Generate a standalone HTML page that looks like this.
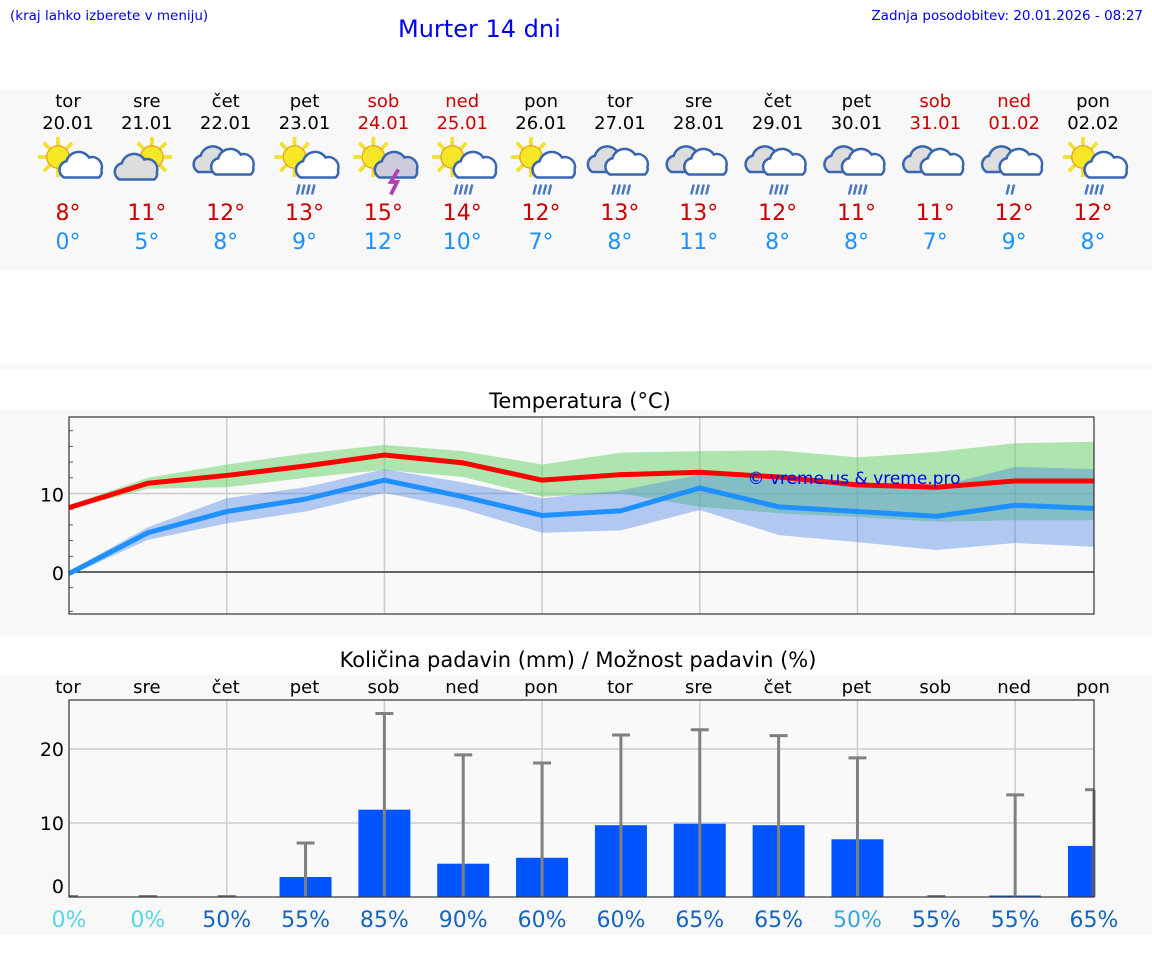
<!DOCTYPE html>
<html><head><meta charset="utf-8">
<style>
body{margin:0;width:1152px;height:975px;background:#fff;font-family:"DejaVu Sans","Liberation Sans",sans-serif;position:relative;overflow:hidden}
.abs{position:absolute}
</style></head><body>
<div class="abs" style="left:10px;top:8px;font-size:13.5px;color:#0000ee">(kraj lahko izberete v meniju)</div>
<div class="abs" style="left:398px;top:15px;font-size:24px;color:#0000ee">Murter 14 dni</div>
<div class="abs" style="right:9px;top:8px;font-size:13.5px;color:#0000ee">Zadnja posodobitev: 20.01.2026 - 08:27</div>
<div class="abs" style="left:0;top:90px;width:1152px;height:180px;background:#f8f8f8"></div>
<div class="abs" style="left:0;top:365px;width:1152px;height:5px;background:#f8f8f8"></div>
<div class="abs" style="left:0;top:410px;width:1152px;height:225px;background:#f8f8f8"></div>
<div class="abs" style="left:0;top:675px;width:1152px;height:260px;background:#f8f8f8"></div>
<svg class="abs" style="left:0;top:0" width="1152" height="975" id="svg" font-family="DejaVu Sans, Liberation Sans, sans-serif"></svg>
<script>
const days=["tor","sre","čet","pet","sob","ned","pon","tor","sre","čet","pet","sob","ned","pon"];
const dates=["20.01","21.01","22.01","23.01","24.01","25.01","26.01","27.01","28.01","29.01","30.01","31.01","01.02","02.02"];
const weekend=[0,0,0,0,1,1,0,0,0,0,0,1,1,0];
const icons=["sunc","suncl","cloud","sunrain","sunstorm","sunrain","sunrain","rain","rain","rain","rain","cloud","rain1","sunrain"];
const hiLabels=[8,11,12,13,15,14,12,13,13,12,11,11,12,12];
const loLabels=[0,5,8,9,12,10,7,8,11,8,8,7,9,8];
const tMax=[8.2,11.3,12.3,13.5,14.9,13.9,11.7,12.4,12.7,12.1,11.1,10.8,11.6,11.6];
const tMin=[-0.2,5.0,7.7,9.3,11.7,9.6,7.2,7.8,10.7,8.3,7.7,7.1,8.5,8.1];
const maxHi=[8.5,12.0,13.7,15.1,16.2,15.4,13.7,15.2,15.4,15.5,14.6,15.3,16.4,16.6];
const maxLo=[8.0,10.6,10.8,12.0,13.0,12.1,9.6,10.0,8.3,7.5,7.0,6.4,6.6,6.6];
const minHi=[0.1,5.7,9.4,10.8,13.1,11.4,9.4,10.4,12.4,11.7,11.1,10.8,13.4,13.1];
const minLo=[-0.5,4.1,6.2,7.7,10.1,8.0,5.0,5.3,7.9,4.7,3.8,2.8,3.7,3.2];
const tTicks=[0,10];
const precip=[0,0,0,2.7,11.8,4.5,5.3,9.7,9.9,9.7,7.8,0,0.2,6.9];
const precipMax=[0,0,0,7.3,24.8,19.2,18.1,21.9,22.6,21.8,18.8,0,13.8,14.5];
const prob=[0,0,50,55,85,90,60,60,65,65,50,55,55,65];
const pTicks=[0,10,20];

const NS="http://www.w3.org/2000/svg",svg=document.getElementById('svg');
function el(t,a,p){const e=document.createElementNS(NS,t);for(const k in a)e.setAttribute(k,a[k]);(p||svg).appendChild(e);return e;}
const X0=69,X1=1094,dx=(X1-X0)/13;
const dayX=i=>X0+i*dx;
for(let i=0;i<14;i++){
  const x=dayX(i)-1, col=weekend[i]?"#cc0000":"#000";
  let t=el('text',{x:x,y:107,'text-anchor':'middle','font-size':18,fill:col});t.textContent=days[i];
  
  t=el('text',{x:x,y:129,'text-anchor':'middle','font-size':18,fill:col});t.textContent=dates[i];
  
  t=el('text',{x:x,y:220,'text-anchor':'middle','font-size':22,fill:"#cc0000"});t.textContent=hiLabels[i]+"°";
  
  t=el('text',{x:x,y:249,'text-anchor':'middle','font-size':22,fill:"#1e90ff"});t.textContent=loLabels[i]+"°";
  
  const g=el('g',{transform:`translate(${x},162) scale(1.25)`});
  
  const k=icons[i];
  const sun=(cx,cy)=>{for(let a=0;a<8;a++){const r=a*Math.PI/4;el('line',{x1:cx+Math.cos(r)*9,y1:cy+Math.sin(r)*9,x2:cx+Math.cos(r)*16,y2:cy+Math.sin(r)*16,stroke:"#f2e030",'stroke-width':3},g);}el('circle',{cx:cx,cy:cy,r:9,fill:"#f5e626",stroke:"#e8a020",'stroke-width':1},g);};
  const cloud=(cx,cy,s,f)=>{el('path',{d:`M${cx-14*s},${cy+8*s} a7 7 0 0 1 2,-13 a10 10 0 0 1 18,-3 a8 8 0 0 1 10,10 a6 6 0 0 1 -2,6 z`,fill:f,stroke:"#3a66b0",'stroke-width':2},g);};
  if(k.startsWith('sun')&&k!=='suncl'){sun(-8,-4);cloud(8,6,0.8,k==='sunstorm'?"#ccd":"#fff");}
  if(k==='suncl'){sun(4,-4);cloud(-8,6,1,"#ddd");}
  if(k==='cloud'||k==='rain'||k==='rain1'){cloud(-8,0,1,"#ddd");cloud(6,2,1,"#fff");}
  if(k.includes('rain')){const n=k==='rain1'?2:4;for(let j=0;j<n;j++)el('line',{x1:-4+j*4,y1:18,x2:-6+j*4,y2:26,stroke:"#4a78c0",'stroke-width':2},g);}
  if(k==='sunstorm')el('path',{d:"M12,6 L6,16 L11,16 L6,26",stroke:"#b040b0",'stroke-width':3,fill:'none'},g);
}
const TY=v=>572-v*7.85;
let t=el('text',{x:580,y:408,'text-anchor':'middle','font-size':21,fill:"#000"});t.textContent="Temperatura (°C)";

el('rect',{x:X0,y:417,width:X1-X0,height:197,fill:"#f9f9f9"});
for(let i=2;i<13;i+=2)el('line',{x1:dayX(i),y1:417,x2:dayX(i),y2:614,stroke:"#ccc",'stroke-width':1.5});
for(const v of [-5,-2,2,4,6,8,12,14,16,18])el('line',{x1:X0,y1:TY(v),x2:X0+4,y2:TY(v),stroke:"#555"});
tTicks.forEach(v=>{el('line',{x1:X0,y1:TY(v),x2:X1,y2:TY(v),stroke:v===0?"#333":"#ccc",'stroke-width':1.5});
 const tt=el('text',{x:64,y:TY(v)+8,'text-anchor':'end','font-size':19});tt.textContent=v;
 });
function band(hi,lo,fill,name){let d="";hi.forEach((v,i)=>d+=(i?"L":"M")+dayX(i)+","+TY(v));for(let i=lo.length-1;i>=0;i--)d+="L"+dayX(i)+","+TY(lo[i]);
 const p=el('path',{d:d+"Z",fill:fill});}
function line(a,c,name){const p=el('polyline',{points:a.map((v,i)=>dayX(i)+","+TY(v)).join(" "),fill:"none",stroke:c,'stroke-width':5,'stroke-linejoin':'round'});
 }
band(maxHi,maxLo,"rgba(100,210,100,0.5)","max-temp-range");
band(minHi,minLo,"rgba(70,130,230,0.4)","min-temp-range");
line(tMax,"#ff0000","max-temp-line");line(tMin,"#1e90ff","min-temp-line");
el('rect',{x:X0,y:417,width:X1-X0,height:197,fill:"none",stroke:"#333",'stroke-width':1.2});
t=el('text',{x:854,y:484,'text-anchor':'middle','font-size':17,fill:"#0000ee"});t.textContent="© vreme.us & vreme.pro";

const PY=v=>897-v*7.4;
t=el('text',{x:578,y:667,'text-anchor':'middle','font-size':21});t.textContent="Količina padavin (mm) / Možnost padavin (%)";

el('rect',{x:X0,y:700,width:X1-X0,height:197,fill:"#f9f9f9"});
for(let i=2;i<13;i+=2)el('line',{x1:dayX(i),y1:700,x2:dayX(i),y2:897,stroke:"#ccc",'stroke-width':1.5});
pTicks.forEach(v=>{if(v)el('line',{x1:X0,y1:PY(v),x2:X1,y2:PY(v),stroke:"#ccc",'stroke-width':1.5});
 const tt=el('text',{x:64,y:PY(v)+(v?7:-4),'text-anchor':'end','font-size':19});tt.textContent=v;
 });
for(let i=0;i<14;i++){
  const x=dayX(i);
  let d=el('text',{x:x-1,y:693,'text-anchor':'middle','font-size':18});d.textContent=days[i];
  
  if(precip[i]>0){const b=el('rect',{x:x-26,y:PY(precip[i]),width:Math.min(52,X1-x+26),height:precip[i]*7.4,fill:"#0055ff"});
   }
  if(precipMax[i]>0){el('line',{x1:x,y1:PY(0),x2:x,y2:PY(precipMax[i]),stroke:"#808080",'stroke-width':3});
   el('line',{x1:x-9,y1:PY(precipMax[i]),x2:Math.min(x+9,X1),y2:PY(precipMax[i]),stroke:"#808080",'stroke-width':3});}
  else el('line',{x1:Math.max(x-9,X0),y1:896,x2:x+9,y2:896,stroke:"#808080",'stroke-width':2});
  const col=prob[i]===0?"#55d5e8":(i===10?"#38a4e0":"#1565c0");
  const p=el('text',{x:x,y:927,'text-anchor':'middle','font-size':22,fill:col});p.textContent=prob[i]+"%";
  
}
el('rect',{x:X0,y:700,width:X1-X0,height:197,fill:"none",stroke:"#333",'stroke-width':1.2});
</script>
</body></html>
